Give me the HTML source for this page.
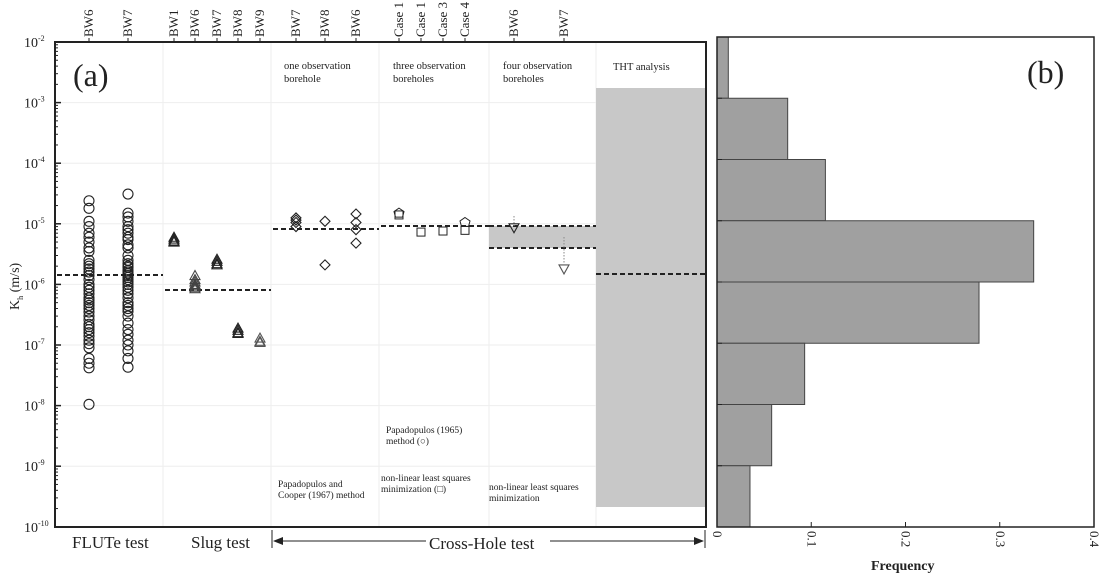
<!DOCTYPE html>
<html><head><meta charset="utf-8"><style>
body{margin:0;background:#fff;}
svg{display:block;font-family:"Liberation Serif",serif;}
</style></head><body>
<svg id="s" width="1100" height="574" xmlns="http://www.w3.org/2000/svg">
<rect width="1100" height="574" fill="#fff"/>
<g id="g"></g>
</svg>
<script>
const g=document.getElementById('g');let h='';
const Y=v=>42+(-2-Math.log10(v))*60.6;
const yd=d=>42+(-2-d)*60.6;
for(let d=-3;d>=-9;d--)h+=`<line x1="55" x2="706" y1="${yd(d)}" y2="${yd(d)}" stroke="#eee" stroke-width="1"/>`;
[163,271,379,489,596].forEach(x=>h+=`<line x1="${x}" x2="${x}" y1="42" y2="527" stroke="#eee"/>`);
h+=`<rect x="596" y="88" width="110" height="419" fill="#c8c8c8"/>`;
h+=`<rect x="489" y="226" width="107" height="22" fill="#c8c8c8"/>`;
const dl=(x1,x2,y)=>h+=`<line x1="${x1}" x2="${x2}" y1="${y}" y2="${y}" stroke="#222" stroke-width="2" stroke-dasharray="5,3"/>`;
dl(57,163,275);dl(165,271,290);dl(273,379,229);dl(381,489,226);dl(489,596,226);dl(489,596,248);dl(596,706,274);
const c=(x,v)=>h+=`<circle cx="${x}" cy="${Y(v)}" r="5" fill="none" stroke="#222" stroke-width="1.1"/>`;
const bw6=[2.4e-5,1.8e-5,1.1e-5,9e-6,7e-6,6e-6,5e-6,4e-6,3.5e-6,2.5e-6,2.2e-6,2e-6,1.8e-6,1.6e-6,1.4e-6,1.2e-6,1e-6,9e-7,8e-7,7e-7,6e-7,5.5e-7,5e-7,4.5e-7,4e-7,3.5e-7,3e-7,2.6e-7,2.2e-7,2e-7,1.8e-7,1.6e-7,1.4e-7,1.2e-7,1.05e-7,9e-8,6e-8,5e-8,4.2e-8,1.05e-8];
bw6.forEach(v=>c(89,v));
const bw7=[3.1e-5,1.5e-5,1.3e-5,1.1e-5,9e-6,8e-6,7e-6,6e-6,5.5e-6,4.5e-6,4e-6,3e-6,2.5e-6,2.2e-6,2e-6,1.9e-6,1.7e-6,1.6e-6,1.5e-6,1.4e-6,1.3e-6,1.2e-6,1.1e-6,1e-6,9e-7,8e-7,7e-7,6e-7,5e-7,4.5e-7,4e-7,3.6e-7,3e-7,2.3e-7,1.8e-7,1.5e-7,1.2e-7,1e-7,8e-8,6e-8,4.3e-8];
bw7.forEach(v=>c(128,v));
const tri=(x,v,up=true,col="#222")=>{const y=Y(v);h+=up?`<polygon points="${x},${y-5} ${x-5},${y+4} ${x+5},${y+4}" fill="none" stroke="${col}" stroke-width="1.1"/>`:`<polygon points="${x},${y+5} ${x-5},${y-4} ${x+5},${y-4}" fill="none" stroke="${col}" stroke-width="1.1"/>`;};
[6e-6,5.6e-6,5.2e-6,5e-6].forEach(v=>tri(174,v));
[1.4e-6,1.2e-6,1.1e-6,1e-6,9.5e-7,9e-7,8.5e-7].forEach(v=>tri(195,v,true,"#444"));
[2.6e-6,2.4e-6,2.2e-6,2.1e-6].forEach(v=>tri(217,v));
[1.9e-7,1.75e-7,1.6e-7,1.55e-7].forEach(v=>tri(238,v));
[1.3e-7,1.15e-7,1.1e-7].forEach(v=>tri(260,v,true,"#555"));
const dm=(x,v)=>{const y=Y(v);h+=`<polygon points="${x},${y-5} ${x+5},${y} ${x},${y+5} ${x-5},${y}" fill="none" stroke="#222" stroke-width="1.1"/>`;};
[1.25e-5,1.15e-5,1.05e-5,9e-6].forEach(v=>dm(296,v));
[1.1e-5,2.1e-6].forEach(v=>dm(325,v));
[1.45e-5,1.05e-5,8e-6,4.8e-6].forEach(v=>dm(356,v));
const sq=(x,v)=>{const y=Y(v);h+=`<rect x="${x-4}" y="${y-4}" width="8" height="8" fill="none" stroke="#222"/>`;};
const pe=(x,v)=>{const y=Y(v);h+=`<polygon points="${x},${y-5} ${x+5},${y-1.5} ${x+3.5},${y+4} ${x-3.5},${y+4} ${x-5},${y-1.5}" fill="none" stroke="#222"/>`;};
sq(399,1.4e-5);pe(399,1.5e-5);sq(421,7.3e-6);sq(443,7.6e-6);sq(465,7.8e-6);pe(465,1.05e-5);
h+=`<line x1="514" x2="514" y1="216" y2="226" stroke="#888" stroke-dasharray="1.5,1.5"/>`;tri(514,8.6e-6,false);
h+=`<line x1="564" x2="564" y1="237" y2="263" stroke="#888" stroke-dasharray="1.5,1.5"/>`;tri(564,1.8e-6,false,"#555");
const t=(x,y,s,fs=10,extra='')=>h+=`<text x="${x}" y="${y}" font-size="${fs}" fill="#222" ${extra}>${s}</text>`;
t(284,69,'one observation',10.5);t(284,82,'borehole',10.5);
t(393,69,'three observation',10.5);t(393,82,'boreholes',10.5);
t(503,69,'four observation',10.5);t(503,82,'boreholes',10.5);
t(613,70,'THT analysis',10.5);
t(278,487,'Papadopulos and',9.5);t(278,498,'Cooper (1967) method',9.5);
t(386,433,'Papadopulos (1965)',9.5);t(386,444,'method (○)',9.5);
t(381,481,'non-linear least squares',9.5);t(381,492,'minimization (□)',9.5);
t(489,490,'non-linear least squares',9.5);t(489,501,'minimization',9.5);
t(73,86,'(a)',32);t(1027,83,'(b)',32);
h+=`<rect x="55" y="42" width="651" height="485" fill="none" stroke="#222" stroke-width="2"/>`;
for(let d=-2;d>=-10;d--){const y=yd(d);h+=`<line x1="55" x2="61" y1="${y}" y2="${y}" stroke="#222" stroke-width="1.5"/>`;
 h+=`<text x="24" y="${y+5}" font-size="14" fill="#222">10<tspan dy="-6" font-size="8">${d}</tspan></text>`;
 if(d>-10)for(let k=2;k<10;k++){const yy=y-Math.log10(k)*60.6+60.6;h+=`<line x1="55" x2="58" y1="${yy}" y2="${yy}" stroke="#222"/>`;}}
const tl=[[89,'BW6'],[128,'BW7'],[174,'BW1'],[195,'BW6'],[217,'BW7'],[238,'BW8'],[260,'BW9'],[296,'BW7'],[325,'BW8'],[356,'BW6'],[399,'Case 1'],[421,'Case 1'],[443,'Case 3'],[465,'Case 4'],[514,'BW6'],[564,'BW7']];
tl.forEach(([x,s])=>{h+=`<line x1="${x}" x2="${x}" y1="38" y2="42" stroke="#222"/><text transform="translate(${x+4},37) rotate(-90)" font-size="13" fill="#222">${s}</text>`;});
h+=`<text transform="translate(19,310) rotate(-90)" font-size="14" fill="#222">K<tspan dy="4" font-size="8">h</tspan><tspan dy="-4"> (m/s)</tspan></text>`;
t(72,548,'FLUTe test',17);t(191,548,'Slug test',17);
h+=`<line x1="272" x2="272" y1="530" y2="548" stroke="#222"/><line x1="705" x2="705" y1="530" y2="548" stroke="#222"/>`;
h+=`<line x1="274" x2="426" y1="541" y2="541" stroke="#222"/><line x1="550" x2="703" y1="541" y2="541" stroke="#222"/>`;
h+=`<polygon points="273,541 283,537 283,545" fill="#222"/><polygon points="704,541 694,537 694,545" fill="#222"/>`;
t(429,549,'Cross-Hole test',17);
const x0=717,sc=94.25,vals=[0.012,0.075,0.115,0.336,0.278,0.093,0.058,0.035];
vals.forEach((v,i)=>{const y=37+i*61.25;h+=`<rect x="${x0}" y="${y}" width="${v*10*sc}" height="61.25" fill="#a0a0a0" stroke="#444" stroke-width="1"/>`;});
h+=`<rect x="717" y="37" width="377" height="490" fill="none" stroke="#222" stroke-width="1.5"/>`;
for(let i=1;i<8;i++){const y=37+i*61.25;h+=`<line x1="717" x2="722" y1="${y}" y2="${y}" stroke="#222"/>`;}
['0','0.1','0.2','0.3','0.4'].forEach((s,i)=>{const x=717+i*sc;h+=`<line x1="${x}" x2="${x}" y1="527" y2="522" stroke="#222"/><text transform="translate(${x-4},531) rotate(90)" font-size="13" fill="#222">${s}</text>`;});
t(871,570,'Frequency',14,'font-weight="bold"');
g.innerHTML=h;
</script>
</body></html>
